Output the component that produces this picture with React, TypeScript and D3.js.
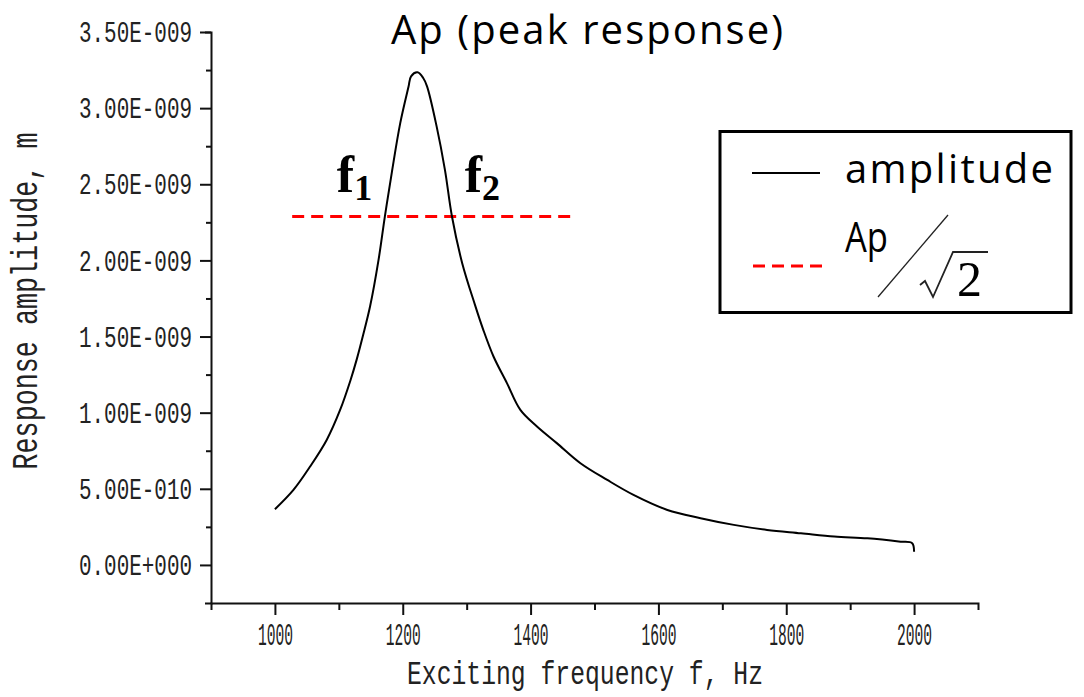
import React, { useEffect, useRef } from 'react';
import * as d3 from 'd3';

// exciting frequency (Hz) and response amplitude (x 1E-9 m)
const freq = [1000, 1029, 1055, 1081, 1102, 1118, 1128, 1138, 1149, 1162, 1172, 1183, 1196, 1209, 1213, 1223, 1232, 1238, 1253, 1266, 1277, 1293, 1313, 1326, 1342, 1363, 1384, 1410, 1441, 1478, 1520, 1561, 1614, 1666, 1718, 1770, 1823, 1875, 1927, 1979, 1997, 2000];
const ampNano = [0.366, 0.493, 0.646, 0.821, 1.018, 1.21, 1.35, 1.51, 1.70, 2.00, 2.288, 2.58, 2.90, 3.14, 3.209, 3.235, 3.198, 3.143, 2.880, 2.595, 2.288, 1.982, 1.708, 1.544, 1.369, 1.194, 1.018, 0.909, 0.800, 0.668, 0.558, 0.460, 0.361, 0.307, 0.263, 0.230, 0.208, 0.186, 0.175, 0.153, 0.143, 0.087];

// half-power line Ap/sqrt(2) and where it is drawn
const peakNano = 3.235;
const halfPowerSpan = [1027, 1462];

const xMajor = [1000, 1200, 1400, 1600, 1800, 2000];
const xMinor = [1100, 1300, 1500, 1700, 1900];
const yMajor = [0, 0.5e-9, 1e-9, 1.5e-9, 2e-9, 2.5e-9, 3e-9, 3.5e-9];
const yMinor = [0.25e-9, 0.75e-9, 1.25e-9, 1.75e-9, 2.25e-9, 2.75e-9, 3.25e-9];

// f1 / f2 label anchors (Hz)
const fLabels = [{ f: 1100, sub: '1' }, { f: 1300, sub: '2' }];

const W = 1084;
const H = 697;
const plot = { left: 211, right: 978, top: 32, bottom: 603 };
const monoFont = '"Liberation Mono", monospace';
const sansFont = '"Open Sans", "Noto Sans", sans-serif';
const serifFont = '"Liberation Serif", "Times New Roman", serif';

const sciFormat = (v: number) => {
    if (Math.abs(v) < 1e-20) return '0.00E+000';
    const e = Math.floor(Math.log10(Math.abs(v)) + 1e-9);
    const m = (v / Math.pow(10, e)).toFixed(2);
    return `${m}E${e < 0 ? '-' : '+'}${String(Math.abs(e)).padStart(3, '0')}`;
};

const App = () => {
    const svgRef = useRef<SVGSVGElement | null>(null);

    useEffect(() => {
        const svg = d3.select(svgRef.current);
        svg.selectAll('*').remove();

        const x = d3.scaleLinear().domain([900, 2100]).range([plot.left, plot.right]);
        const y = d3.scaleLinear().domain([-0.25e-9, 3.5e-9]).range([plot.bottom, plot.top]);

        svg.append('rect').attr('width', W).attr('height', H).attr('fill', '#fff');

        // y axis
        const yAxis = svg.append('g')
            .attr('transform', `translate(${plot.left},0)`)
            .call(d3.axisLeft(y).tickValues(yMajor).tickSize(11).tickSizeOuter(6).tickPadding(8).tickFormat(d => sciFormat(+d)));
        svg.append('g')
            .attr('transform', `translate(${plot.left},0)`)
            .call(d3.axisLeft(y).tickValues(yMinor).tickSize(5).tickFormat(() => ''))
            .call(g => g.select('.domain').remove());

        // x axis
        const xAxis = svg.append('g')
            .attr('transform', `translate(0,${plot.bottom})`)
            .call(d3.axisBottom(x).tickValues(xMajor).tickSize(12).tickSizeOuter(7).tickFormat(d => String(d)));
        svg.append('g')
            .attr('transform', `translate(0,${plot.bottom})`)
            .call(d3.axisBottom(x).tickValues(xMinor).tickSize(7).tickFormat(() => ''))
            .call(g => g.select('.domain').remove());

        svg.selectAll('.domain').attr('stroke', '#111').attr('stroke-width', 2);
        svg.selectAll('.tick line').attr('stroke', '#111').attr('stroke-width', 2);

        yAxis.selectAll('text')
            .attr('font-family', monoFont)
            .attr('font-size', 30)
            .attr('fill', '#222')
            .attr('textLength', 113)
            .attr('lengthAdjust', 'spacingAndGlyphs');

        xAxis.selectAll('text')
            .attr('font-family', monoFont)
            .attr('font-size', 32)
            .attr('fill', '#222')
            .attr('y', 42)
            .attr('dy', null)
            .attr('textLength', 35)
            .attr('lengthAdjust', 'spacingAndGlyphs');

        // axis titles
        svg.append('text')
            .attr('x', 585)
            .attr('y', 684)
            .attr('text-anchor', 'middle')
            .attr('font-family', monoFont)
            .attr('font-size', 34)
            .attr('fill', '#222')
            .attr('textLength', 356)
            .attr('lengthAdjust', 'spacingAndGlyphs')
            .text('Exciting frequency f, Hz');

        svg.append('text')
            .attr('transform', 'translate(37,301) rotate(-90)')
            .attr('text-anchor', 'middle')
            .attr('font-family', monoFont)
            .attr('font-size', 36)
            .attr('fill', '#222')
            .attr('textLength', 337)
            .attr('lengthAdjust', 'spacingAndGlyphs')
            .text('Response amplitude, m');

        // half-power line
        const halfPower = (peakNano / Math.SQRT2) * 1e-9;
        svg.append('line')
            .attr('x1', x(halfPowerSpan[0]))
            .attr('x2', x(halfPowerSpan[1]))
            .attr('y1', y(halfPower))
            .attr('y2', y(halfPower))
            .attr('stroke', '#f00')
            .attr('stroke-width', 3)
            .attr('stroke-dasharray', '12 7');

        // amplitude curve
        const pts = freq.map((f, i) => [f, ampNano[i] * 1e-9] as [number, number]);
        const line = d3.line<[number, number]>()
            .x(d => x(d[0]))
            .y(d => y(d[1]))
            .curve(d3.curveCatmullRom.alpha(0.5));
        svg.append('path')
            .datum(pts)
            .attr('d', line)
            .attr('fill', 'none')
            .attr('stroke', '#000')
            .attr('stroke-width', 2);

        // f1, f2 labels
        fLabels.forEach(l => {
            const t = svg.append('text')
                .attr('x', x(l.f) - 2)
                .attr('y', y(2.45e-9))
                .attr('font-family', serifFont)
                .attr('font-weight', 'bold')
                .attr('font-size', 52)
                .attr('fill', '#000');
            t.append('tspan').text('f');
            t.append('tspan').attr('font-size', 36).attr('dy', 8).text(l.sub);
        });

        // title
        svg.append('text')
            .attr('x', 391)
            .attr('y', 44)
            .attr('font-family', sansFont)
            .attr('font-size', 40)
            .attr('fill', '#000')
            .attr('textLength', 392)
            .attr('lengthAdjust', 'spacing')
            .text('Ap (peak response)');

        // legend
        const lg = svg.append('g');
        lg.append('rect')
            .attr('x', 720).attr('y', 131.5)
            .attr('width', 351).attr('height', 181)
            .attr('fill', '#fff').attr('stroke', '#000').attr('stroke-width', 3);
        lg.append('line')
            .attr('x1', 752).attr('x2', 820).attr('y1', 173).attr('y2', 173)
            .attr('stroke', '#000').attr('stroke-width', 2);
        lg.append('text')
            .attr('x', 845).attr('y', 183)
            .attr('font-family', sansFont).attr('font-size', 40)
            .attr('textLength', 208).attr('lengthAdjust', 'spacing')
            .text('amplitude');
        lg.append('line')
            .attr('x1', 753).attr('x2', 826).attr('y1', 266).attr('y2', 266)
            .attr('stroke', '#f00').attr('stroke-width', 3).attr('stroke-dasharray', '12 7');
        lg.append('text')
            .attr('x', 845).attr('y', 252)
            .attr('font-family', sansFont).attr('font-size', 42)
            .attr('textLength', 43).attr('lengthAdjust', 'spacingAndGlyphs')
            .text('Ap');
        lg.append('line')
            .attr('x1', 948).attr('y1', 215).attr('x2', 878).attr('y2', 297)
            .attr('stroke', '#222').attr('stroke-width', 1.3);
        lg.append('path')
            .attr('d', 'M920,285 L925,281 L933,297 L953,252 L988,252')
            .attr('fill', 'none').attr('stroke', '#222').attr('stroke-width', 1.8);
        lg.append('text')
            .attr('x', 957).attr('y', 296)
            .attr('font-family', serifFont).attr('font-size', 50)
            .text('2');
    }, []);

    return (
        <svg ref={svgRef} width={W} height={H} style={{ position: 'absolute', left: 0, top: 0 }} />
    );
};

export default App;
